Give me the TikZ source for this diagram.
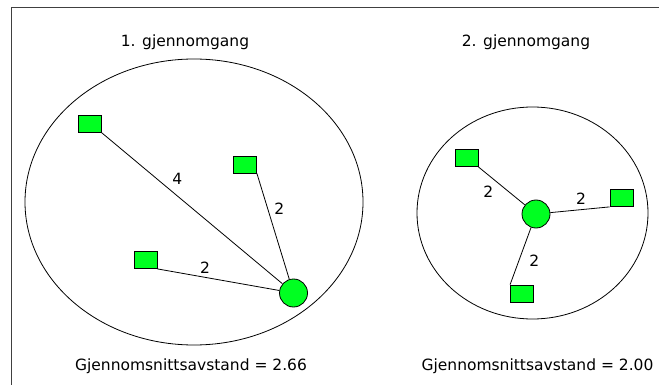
\documentclass[tikz,border=0pt]{standalone}
\usepackage{fontspec}
\setmainfont{DejaVu Sans}
\usetikzlibrary{positioning}

\definecolor{pointgreen}{RGB}{0,255,33}

\tikzset{
    point/.style={draw, fill=pointgreen, rectangle, minimum width=23pt, minimum height=17pt, inner sep=0pt},
    centre/.style={draw, fill=pointgreen, circle, minimum size=28pt, inner sep=0pt},
    region/.style={draw, ellipse}
}

\begin{document}
\begin{tikzpicture}[x=1pt, y=-1pt, line width=0.8pt, every node/.style={font=\fontsize{15.5}{18}\selectfont}]
    \useasboundingbox (0, 0) rectangle (659, 385);

    % Frame
    \draw[black!75, line width=1.3pt] (11.5, 385) -- (11.5, 7.5) -- (659, 7.5);

    % Regions
    \draw (194, 202) ellipse [x radius=169, y radius=143];
    \draw (532.5, 213) ellipse [x radius=115.5, y radius=106];

    % Titles
    \node (t1) at (185, 42) {1. gjennomgang};
    \node (t2) at (526, 42) {2. gjennomgang};

    % Nodes 1. gjennomgang
    \node[point] (p1) at (90, 124) {};
    \node[point] (p2) at (245, 164.5) {};
    \node[point] (p3) at (145.5, 260) {};
    \node[centre] (c1) at (293.5, 293) {};

    % Nodes 2. gjennomgang
    \node[point] (q1) at (466.5, 158) {};
    \node[point] (q2) at (621.5, 198) {};
    \node[point] (q3) at (522, 293.5) {};
    \node[centre] (c2) at (536, 214) {};

    % Connections 1. gjennomgang
    \draw (p1.south east) -- node[pos=0.37, above right] {4} (c1);
    \draw (p2.south east) -- node[pos=0.33, right=3pt] {2} (c1);
    \draw (p3.south east) -- node[pos=0.39, above] {2} (c1);

    % Connections 2. gjennomgang
    \draw (q1.south east) -- node[pos=0.4, below left] {2} (c2);
    \draw (c2) -- node[pos=0.52, above=1pt] {2} (q2.south west);
    \draw (c2) -- node[pos=0.59, right=7pt] {2} (q3.north west);

    % Results
    \node (r1) at (191, 366) {Gjennomsnittsavstand = 2.66};
    \node (r2) at (537.5, 366) {Gjennomsnittsavstand = 2.00};
\end{tikzpicture}
\end{document}
